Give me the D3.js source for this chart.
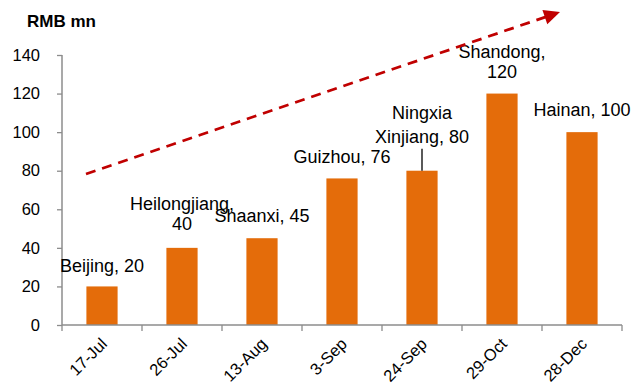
<!DOCTYPE html>
<html>
<head>
<meta charset="utf-8">
<script src="https://cdn.jsdelivr.net/npm/d3@7"></script>
<style>
  body { margin: 0; background: #fff; }
  text { font-family: "Liberation Sans", Arial, sans-serif; fill: #000; }
</style>
</head>
<body>
<svg id="chart" width="632" height="387"></svg>
<script>
// Launch dates and the province launched on each date, with fund size (RMB mn)
const dates = ["17-Jul", "26-Jul", "13-Aug", "3-Sep", "24-Sep", "29-Oct", "28-Dec"];
const provinces = ["Beijing", "Heilongjiang", "Shaanxi", "Guizhou", "Ningxia / Xinjiang", "Shandong", "Hainan"];
const values = [20, 40, 45, 76, 80, 120, 100];
const yTicks = [0, 20, 40, 60, 80, 100, 120, 140];
// Label text, split into lines
const labelLines = [
  ["Beijing, 20"],
  ["Heilongjiang,", "40"],
  ["Shaanxi, 45"],
  ["Guizhou, 76"],
  ["Ningxia", "Xinjiang, 80"],
  ["Shandong,", "120"],
  ["Hainan, 100"]
];
// Trend arrow in data space (band index, value)
const trendStart = { i: -0.2, v: 78.3 };
const trendEnd = { i: 5.725, v: 162.3 };

const svg = d3.select("#chart");
const margin = { left: 62, right: 10, top: 55, bottom: 62 };
const W = 632, H = 387;

const x = d3.scaleBand().domain(dates).range([margin.left, W - margin.right]).paddingInner(0.61).paddingOuter(0.305);
const xb = d3.scaleBand().domain(dates).range([margin.left, W - margin.right]);
const y = d3.scaleLinear().domain([0, 140]).range([H - margin.bottom, margin.top]);

const axisColor = "#8c8c8c";

// Bars
svg.selectAll("rect.bar").data(values).join("rect")
  .attr("class", "bar")
  .attr("x", (d, i) => x(dates[i]))
  .attr("width", x.bandwidth())
  .attr("y", d => y(d))
  .attr("height", d => y(0) - y(d))
  .attr("fill", "#e46c0a");

// Y axis
const yAxis = svg.append("g")
  .attr("transform", `translate(${margin.left},0)`)
  .call(d3.axisLeft(y).tickValues(yTicks).tickSize(5).tickPadding(17));
yAxis.selectAll("text").style("font-size", "16.5px").attr("fill", "#000");
yAxis.selectAll("line").attr("stroke", axisColor).attr("stroke-width", 1.3);
yAxis.select(".domain").attr("stroke", axisColor).attr("stroke-width", 1.5).attr("d", `M0,${y(140)}V${y(0)}`);

// X axis: ticks at band boundaries
const xg = svg.append("g").attr("transform", `translate(0,${y(0)})`);
xg.append("line").attr("x1", margin.left).attr("x2", W - margin.right)
  .attr("stroke", axisColor).attr("stroke-width", 1.5);
const bounds = dates.map(d => xb(d)).concat([xb(dates[dates.length - 1]) + xb.bandwidth()]);
xg.selectAll("line.tick").data(bounds).join("line")
  .attr("class", "tick")
  .attr("x1", d => d).attr("x2", d => d).attr("y1", 0).attr("y2", 6)
  .attr("stroke", axisColor).attr("stroke-width", 1.3);
xg.selectAll("text").data(dates).join("text")
  .attr("text-anchor", "end")
  .attr("transform", d => `translate(${xb(d) + xb.bandwidth() / 2 + 6},${20}) rotate(-45)`)
  .style("font-size", "16.5px")
  .text(d => d);

// Unit label
svg.append("text").attr("x", 27).attr("y", 27)
  .style("font-size", "17px").style("font-weight", "bold").text("RMB mn");

// Data labels: gap above the bar and line spacing
const labelGap = [14, 18, 16, 15, 27.5, 16, 16];
const labelLH = [20, 20, 20, 20, 24, 20, 20];
labelLines.forEach((lines, i) => {
  const cx = x(dates[i]) + x.bandwidth() / 2;
  const base = y(values[i]) - labelGap[i] - (lines.length - 1) * labelLH[i];
  const t = svg.append("text").attr("text-anchor", "middle").style("font-size", "18px");
  lines.forEach((s, k) => {
    t.append("tspan").attr("x", cx).attr("y", base + k * labelLH[i]).text(s);
  });
});

// Leader line for the Ningxia/Xinjiang label
const nx = x(dates[4]) + x.bandwidth() / 2;
svg.append("line")
  .attr("x1", nx).attr("x2", nx)
  .attr("y1", y(values[4]) - 22).attr("y2", y(values[4]))
  .attr("stroke", "#000").attr("stroke-width", 1.3);

// Dashed trend arrow
const px = i => xb(dates[0]) + xb.bandwidth() / 2 + i * xb.step();
const x0 = px(trendStart.i), y0 = y(trendStart.v);
const x1 = px(trendEnd.i), y1 = y(trendEnd.v);
const ang = Math.atan2(y1 - y0, x1 - x0);
const headLen = 16, headHalf = 7.5;
const bx = x1 - headLen * Math.cos(ang), by = y1 - headLen * Math.sin(ang);
svg.append("line")
  .attr("x1", x0).attr("y1", y0)
  .attr("x2", bx + 2 * Math.cos(ang)).attr("y2", by + 2 * Math.sin(ang))
  .attr("stroke", "#c00000").attr("stroke-width", 2.8)
  .attr("stroke-dasharray", "10,7");
const nxv = -Math.sin(ang), nyv = Math.cos(ang);
svg.append("path")
  .attr("d", `M${x1},${y1}L${bx + headHalf * nxv},${by + headHalf * nyv}L${bx - headHalf * nxv},${by - headHalf * nyv}Z`)
  .attr("fill", "#c00000");
</script>
</body>
</html>
